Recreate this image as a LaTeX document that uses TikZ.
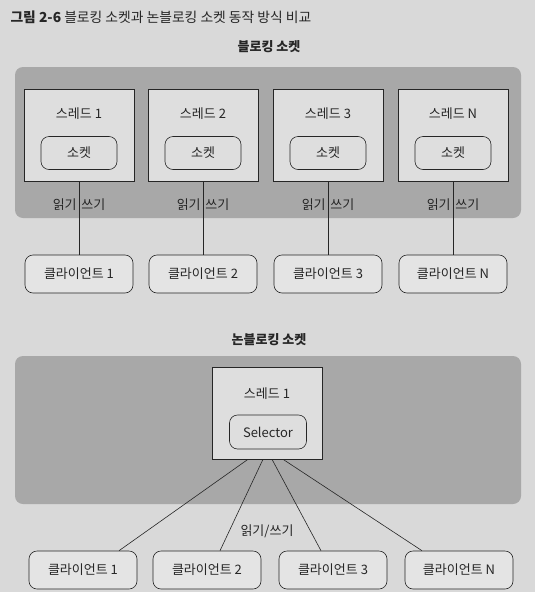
\documentclass[tikz,border=0pt]{standalone}
\usepackage{fontspec}
\setmainfont{Noto Sans CJK KR}
\usepackage{xcolor}
\usepackage{tikz}
\usetikzlibrary{positioning,calc}
\definecolor{pagebg}{HTML}{D9D9D9}
\definecolor{panelbg}{HTML}{A8A8A8}
\definecolor{boxbg}{HTML}{DEDEDE}
\definecolor{clibg}{HTML}{E4E4E4}
\definecolor{ink}{HTML}{262626}
\tikzset{
  panel/.style = {fill=panelbg, rounded corners=8pt, draw=none},
  thr/.style   = {draw=ink, fill=boxbg, line width=0.6pt, minimum width=110pt,
                  minimum height=92pt},
  sock/.style  = {draw=ink, fill=boxbg, rounded corners=8pt, line width=0.6pt,
                  minimum width=76pt, minimum height=33pt, text=ink},
  cli/.style   = {draw=ink, fill=clibg, rounded corners=8pt, line width=0.6pt,
                  minimum width=108pt, minimum height=38pt, text=ink},
  lbl/.style   = {text=ink, inner sep=2pt},
  ttl/.style   = {text=ink, font=\fontsize{13}{15}\selectfont\bfseries},
  wire/.style  = {draw=ink, line width=0.6pt}
}

\begin{document}
\begin{tikzpicture}[x=1pt, y=-1pt, font=\fontsize{13}{15}\selectfont]
\useasboundingbox (0,0) rectangle (539,600);
\fill[pagebg] (0,0) rectangle (535,592);

% title of the figure
\node[anchor=west, text=ink, font=\fontsize{13.8}{16}\selectfont] (fig) at (7,17)
  {\textbf{그림 2-6} 블로킹 소켓과 논블로킹 소켓 동작 방식 비교};

% blocking socket
\node[ttl] (bhead) at (269,47) {블로킹 소켓};
\fill[panel] (15,67) rectangle (521,218);

\node[thr] (thr1) at (79,135) {};
\node[thr] (thr2) at (203,135) {};
\node[thr] (thr3) at (328,135) {};
\node[thr] (thrN) at (453,135) {};
\node[lbl] (tl1) at (79,114) {스레드 1};
\node[lbl] (tl2) at (203,114) {스레드 2};
\node[lbl] (tl3) at (328,114) {스레드 3};
\node[lbl] (tlN) at (453,114) {스레드 N};
\node[sock] (sock1) at (79,153) {소켓};
\node[sock] (sock2) at (203,153) {소켓};
\node[sock] (sock3) at (328,153) {소켓};
\node[sock] (sockN) at (453,153) {소켓};

\node[cli] (cli1) at (79,274) {클라이언트 1};
\node[cli] (cli2) at (203,274) {클라이언트 2};
\node[cli] (cli3) at (328,274) {클라이언트 3};
\node[cli] (cliN) at (453,274) {클라이언트 N};

\draw[wire] (thr1.south) -- node[pos=0.32, left, lbl] {읽기} node[pos=0.32, right, lbl] {쓰기} (cli1.north);
\draw[wire] (thr2.south) -- node[pos=0.32, left, lbl] {읽기} node[pos=0.32, right, lbl] {쓰기} (cli2.north);
\draw[wire] (thr3.south) -- node[pos=0.32, left, lbl] {읽기} node[pos=0.32, right, lbl] {쓰기} (cli3.north);
\draw[wire] (thrN.south) -- node[pos=0.32, left, lbl] {읽기} node[pos=0.32, right, lbl] {쓰기} (cliN.north);

% non-blocking socket
\node[ttl] (nhead) at (269,340) {논블로킹 소켓};
\fill[panel] (15,356) rectangle (521,504);

\node[thr] (nthr) at (267,413) {};
\node[lbl] (ntl) at (267,394) {스레드 1};
\node[sock, minimum width=77pt, minimum height=34pt] (sel) at (268,432) {Selector};

\node[cli] (ncli1) at (83,570) {클라이언트 1};
\node[cli] (ncli2) at (207,570) {클라이언트 2};
\node[cli] (ncli3) at (333,570) {클라이언트 3};
\node[cli] (ncliN) at (459,570) {클라이언트 N};

\draw[wire] ($(nthr.south)+(-19,0)$) -- ($(ncli1.north)+(36,0)$);
\draw[wire] ($(nthr.south)+(-4,0)$) -- ($(ncli2.north)+(13,0)$);
\draw[wire] ($(nthr.south)+(5,0)$) -- ($(ncli3.north)+(-12,0)$);
\draw[wire] ($(nthr.south)+(16,0)$) -- ($(ncliN.north)+(-37,0)$);
\node[lbl] (rw) at (267,531) {읽기/쓰기};
\end{tikzpicture}
\end{document}
